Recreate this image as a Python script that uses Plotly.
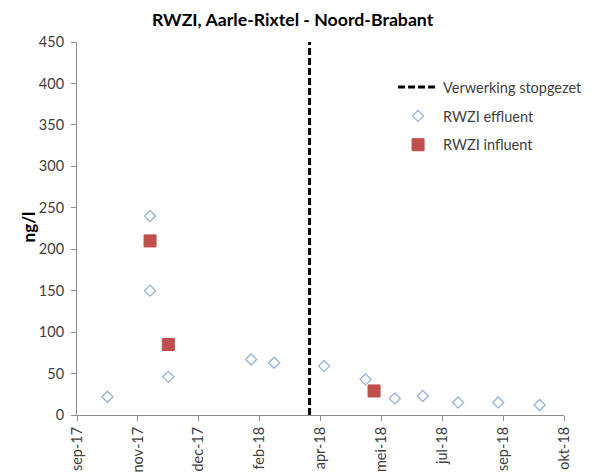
import pandas as pd
import plotly.graph_objects as go

# Data
effluent_dates = ["2017-10-17", "2017-11-21", "2017-11-21", "2017-12-06", "2018-02-12",
                  "2018-03-03", "2018-04-13", "2018-05-17", "2018-06-10", "2018-07-03",
                  "2018-08-01", "2018-09-03", "2018-10-07"]
effluent_values = [22, 240, 150, 46, 67, 63, 59, 43, 20, 23, 15, 15, 12]

influent_dates = ["2017-11-21", "2017-12-06", "2018-05-24"]
influent_values = [210, 85, 29]

stop_date = "2018-04-01"
stop_range = [0, 450]

tick_labels = ["sep-17", "nov-17", "dec-17", "feb-18", "apr-18", "mei-18", "jul-18", "sep-18", "okt-18"]
axis_start = "2017-09-22"
tick_step_days = 50

tick_dates = pd.date_range(axis_start, periods=len(tick_labels), freq=f"{tick_step_days}D")

FONT = "Lato, Carlito, Calibri, sans-serif"
TXT = "#404040"
AXC = "#8c8c8c"

fig = go.Figure()
fig.add_trace(go.Scatter(
    x=[stop_date, stop_date], y=stop_range, mode="lines",
    name="Verwerking stopgezet", legendgroup="a",
    line=dict(color="black", width=3, dash="7px,3px"),
))
fig.add_trace(go.Scatter(
    x=effluent_dates, y=effluent_values, mode="markers",
    name="RWZI effluent", legendgroup="b",
    marker=dict(symbol="diamond-open", size=8.5, color="#95B3D7", line=dict(width=1.3, color="#95B3D7")),
))
fig.add_trace(go.Scatter(
    x=influent_dates, y=influent_values, mode="markers",
    name="RWZI influent", legendgroup="c",
    marker=dict(symbol="square", size=12, color="#C0504D", line=dict(width=1, color="#BE4B48")),
))

# the page puts the figure 8px in from the top-left corner; margins compensate for that
fig.update_layout(
    width=593, height=472,
    margin=dict(l=69, r=37, t=34, b=65, autoexpand=False),
    paper_bgcolor="white", plot_bgcolor="white",
    font=dict(family=FONT, size=14.5, color=TXT),
    title=dict(text="<b>RWZI, Aarle-Rixtel - Noord-Brabant</b>", x=0.48, xanchor="center",
               y=0.975, yanchor="middle", font=dict(family=FONT, size=17.7, color="black")),
    showlegend=True,
    legend=dict(x=0.649, xanchor="left", y=0.922, yanchor="top",
                bgcolor="rgba(0,0,0,0)", font=dict(family=FONT, size=14.5, color=TXT),
                itemwidth=40, tracegroupgap=7),
    annotations=[dict(text="<b>ng/l</b>", textangle=-90, xref="paper", yref="paper",
                      x=-0.099, y=0.505, xanchor="center", yanchor="middle", showarrow=False,
                      font=dict(family=FONT, size=17, color="black"))],
)
fig.update_xaxes(
    type="date", automargin=False,
    range=[tick_dates[0], tick_dates[-1]],
    tickmode="array", tickvals=list(tick_dates), ticktext=tick_labels,
    tickangle=-90, ticks="outside", ticklen=5, tickcolor=AXC,
    showline=True, linecolor=AXC, linewidth=1, showgrid=False, zeroline=False,
    tickfont=dict(family=FONT, size=14.5, color=TXT),
)
fig.update_yaxes(
    range=[0, 450], dtick=50, tick0=0, automargin=False,
    ticks="outside", ticklen=5, tickcolor=AXC, ticklabelstandoff=4,
    showline=True, linecolor=AXC, linewidth=1, showgrid=False, zeroline=False,
    tickfont=dict(family=FONT, size=14.5, color=TXT),
)

fig.write_html("out.html")
